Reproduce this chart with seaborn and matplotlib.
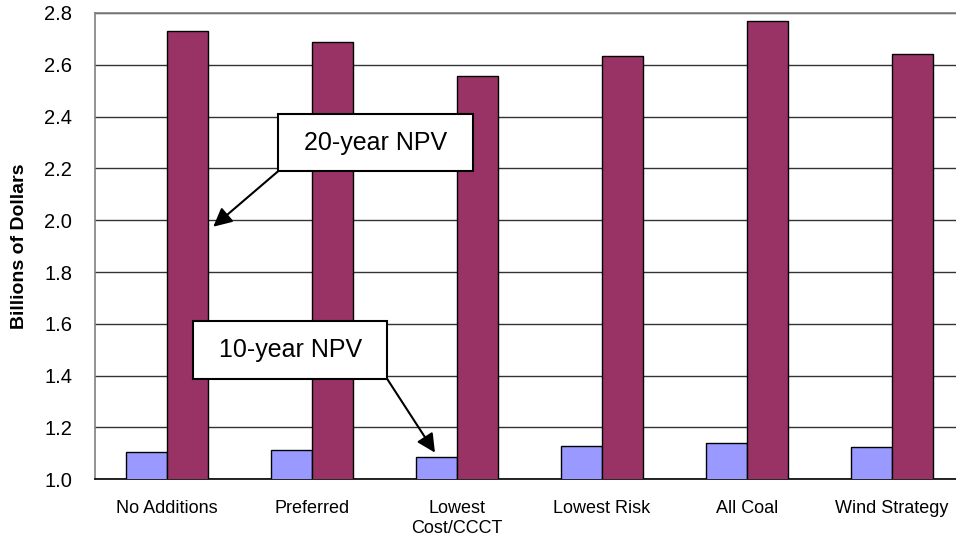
import matplotlib
matplotlib.use("Agg")
import matplotlib.pyplot as plt
import seaborn as sns
import pandas as pd
from matplotlib.patches import Rectangle

categories = ["No Additions", "Preferred", "Lowest\nCost/CCCT", "Lowest Risk", "All Coal", "Wind Strategy"]
npv10 = [1.105, 1.114, 1.086, 1.130, 1.141, 1.124]
npv20 = [2.732, 2.688, 2.558, 2.634, 2.769, 2.641]
series = ["10-year NPV", "20-year NPV"]
yticks = [1.0, 1.2, 1.4, 1.6, 1.8, 2.0, 2.2, 2.4, 2.6, 2.8]

df = pd.DataFrame({
    "cat": categories * 2,
    "val": npv10 + npv20,
    "series": [series[0]] * len(categories) + [series[1]] * len(categories),
})

sns.set_theme(style="white")
plt.rcParams["font.family"] = ["Liberation Sans", "DejaVu Sans"]

fig = plt.figure(figsize=(9.56, 5.39), dpi=100)
ax = fig.add_axes([94.5 / 956, 1 - 479.3 / 539, 870 / 956, (479.3 - 13) / 539])

sns.barplot(data=df, x="cat", y="val", hue="series", hue_order=series,
            order=categories, palette=["#9999FF", "#993366"], width=0.572,
            saturation=1, edgecolor="black", linewidth=1.0, ax=ax,
            legend=False, zorder=3)

ax.set_ylim(1.0, 2.8)
ax.set_xlim(-0.5, 5.5)
ax.set_yticks(yticks)
ax.set_yticklabels([f"{t:.1f}" for t in yticks])
ax.yaxis.grid(True, color="#333333", linewidth=1.0, zorder=0)
ax.set_axisbelow(True)
ax.tick_params(axis="y", length=0, pad=16, labelsize=14.5, colors="#000000")
ax.tick_params(axis="x", length=0, pad=15, labelsize=13, colors="#000000")
ax.set_xlabel("")
ax.set_ylabel("Billions of Dollars", fontsize=14, fontweight="bold", labelpad=12, color="black")

for s in ["left", "top", "right"]:
    ax.spines[s].set_color("#808080")
    ax.spines[s].set_linewidth(1.2)
ax.spines["bottom"].set_color("black")
ax.spines["bottom"].set_linewidth(1.2)

def callout(text, x0, x1, y0, y1, corner, tip):
    rect = Rectangle((x0, y0), x1 - x0, y1 - y0, facecolor="white", edgecolor="black",
                     linewidth=1.5, zorder=6, transform=ax.transData, clip_on=False)
    ax.add_patch(rect)
    ax.text((x0 + x1) / 2, (y0 + y1) / 2, text, ha="center", va="center",
            fontsize=18, zorder=7, color="black")
    ax.annotate("", xy=tip, xytext=corner,
                arrowprops=dict(arrowstyle="-|>", color="black", lw=1.5,
                                mutation_scale=28, shrinkA=0, shrinkB=0),
                zorder=7)

callout("20-year NPV", 0.768, 2.108, 2.190, 2.410, (0.768, 2.190), (0.319, 1.975))
callout("10-year NPV", 0.181, 1.519, 1.387, 1.611, (1.519, 1.387), (1.848, 1.103))

fig.savefig("out.png", dpi=100)
